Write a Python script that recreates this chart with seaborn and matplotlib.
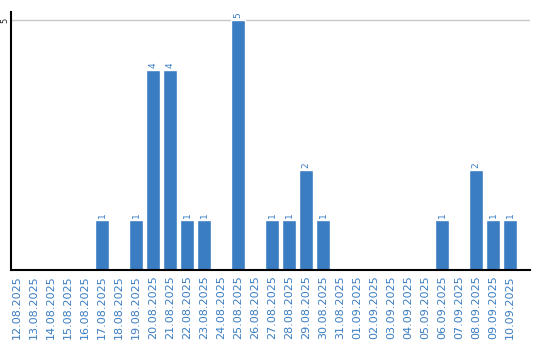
import matplotlib
matplotlib.use("Agg")
import matplotlib.pyplot as plt
import seaborn as sns
import pandas as pd

dates = ["12.08.2025", "13.08.2025", "14.08.2025", "15.08.2025", "16.08.2025",
         "17.08.2025", "18.08.2025", "19.08.2025", "20.08.2025", "21.08.2025",
         "22.08.2025", "23.08.2025", "24.08.2025", "25.08.2025", "26.08.2025",
         "27.08.2025", "28.08.2025", "29.08.2025", "30.08.2025", "31.08.2025",
         "01.09.2025", "02.09.2025", "03.09.2025", "04.09.2025", "05.09.2025",
         "06.09.2025", "07.09.2025", "08.09.2025", "09.09.2025", "10.09.2025"]
counts = [0, 0, 0, 0, 0, 1, 0, 1, 4, 4, 1, 1, 0, 5, 0, 1, 1, 2, 1, 0,
          0, 0, 0, 0, 0, 1, 0, 2, 1, 1]
y_ticks = [5]

df = pd.DataFrame({"date": dates, "count": counts})

sns.set_style("white")
plt.rcParams['font.family'] = ['DejaVu Sans']

color = "#3a7dc2"
fig = plt.figure(figsize=(5.4, 3.4), dpi=100)
ax = fig.add_axes([11 / 540, 70 / 340, 519 / 540, 258 / 340])

sns.barplot(data=df, x="date", y="count", color=color, saturation=1,
            width=0.82, ax=ax, zorder=2)

for i, v in enumerate(counts):
    if v > 0:
        ax.text(i, v + 0.05, str(v), rotation=90, ha="center", va="bottom",
                fontsize=6.5, color=color)

ax.set_ylim(0, 5.16)
ax.set_xlim(-0.35, len(dates) - 1 + 20 / 17)
ax.set_yticks(y_ticks)
ax.set_yticklabels([str(t) for t in y_ticks], rotation=90, fontsize=6)
for lbl in ax.get_yticklabels():
    lbl.set_va("center")
ax.yaxis.grid(True, color="#c8c8c8", linewidth=1, zorder=0)
ax.tick_params(axis="y", length=0, pad=1)
ax.tick_params(axis="x", length=0, pad=4, labelsize=8, labelcolor=color)
for lbl in ax.get_xticklabels():
    lbl.set_rotation(90)
ax.set_xlabel("")
ax.set_ylabel("")
for s in ["top", "right"]:
    ax.spines[s].set_visible(False)
for s in ["left", "bottom"]:
    ax.spines[s].set_color("black")
    ax.spines[s].set_linewidth(1.5)
    ax.spines[s].set_zorder(3)

fig.savefig("out.png", dpi=100)
